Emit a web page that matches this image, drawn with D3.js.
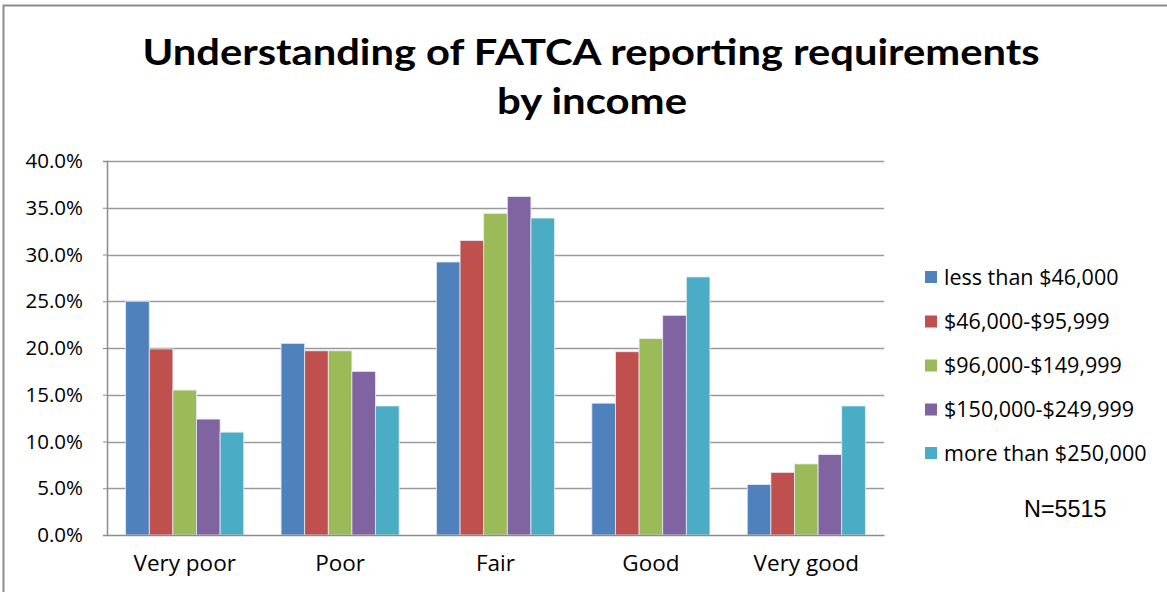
<!DOCTYPE html>
<html><head><meta charset="utf-8">
<script src="https://cdn.jsdelivr.net/npm/d3@7"></script>
<style>body{margin:0;background:#fff}svg{display:block}</style>
</head><body><svg id="c" width="1167" height="592"></svg>
<script>
const categories = ["Very poor","Poor","Fair","Good","Very good"];
const seriesNames = ["less than $46,000","$46,000-$95,999","$96,000-$149,999","$150,000-$249,999","more than $250,000"];
const lessThan46k   = [25.0, 20.5, 29.2, 14.1, 5.4];
const from46to96k   = [19.9, 19.7, 31.5, 19.6, 6.7];
const from96to150k  = [15.5, 19.7, 34.4, 21.0, 7.6];
const from150to250k = [12.4, 17.5, 36.2, 23.5, 8.6];
const moreThan250k  = [11.0, 13.8, 33.9, 27.6, 13.8];
const yTicks = [0,5,10,15,20,25,30,35,40];
const colors = ["#4F81BD","#C0504D","#9BBB59","#8064A2","#4BACC6"];

const series = [lessThan46k, from46to96k, from96to150k, from150to250k, moreThan250k];
const svg = d3.select("#c");
const m = {l:107, r:884, t:161, b:535};
const FONT = "'Open Sans', sans-serif";

svg.append("rect").attr("x",3.5).attr("y",5.5).attr("width",1200).attr("height",700)
  .attr("fill","none").attr("stroke","#8c8c8c").attr("stroke-width",2);

const tf = "Lato, 'Open Sans', sans-serif";
svg.append("text").attr("x",591).attr("y",65).attr("text-anchor","middle")
  .attr("font-family",tf).attr("font-weight","bold").attr("font-size",36).attr("fill","#000")
  .attr("textLength",897).attr("lengthAdjust","spacingAndGlyphs")
  .text("Understanding of FATCA reporting requirements");
svg.append("text").attr("x",592).attr("y",114).attr("text-anchor","middle")
  .attr("font-family",tf).attr("font-weight","bold").attr("font-size",36).attr("fill","#000")
  .attr("textLength",190).attr("lengthAdjust","spacingAndGlyphs")
  .text("by income");

const y = d3.scaleLinear().domain([0,40]).range([m.b,m.t]);
const x0 = d3.scaleBand().domain(categories).range([m.l,m.r]).paddingInner(0.24).paddingOuter(0.12);
const x1 = d3.scaleBand().domain(d3.range(series.length)).range([0,x0.bandwidth()]);

// gridlines
svg.append("g").selectAll("line").data(yTicks.filter(d=>d>0)).join("line")
  .attr("x1",m.l).attr("x2",m.r).attr("y1",d=>Math.round(y(d))+0.5).attr("y2",d=>Math.round(y(d))+0.5)
  .attr("stroke","#9a9a9a").attr("stroke-width",1.5);

// bars
categories.forEach((c,ci)=>{
  series.forEach((s,si)=>{
    svg.append("rect")
      .attr("x",x0(c)+x1(si)).attr("width",x1.bandwidth())
      .attr("y",y(s[ci])).attr("height",y(0)-y(s[ci]))
      .attr("fill",colors[si]).attr("stroke","#e6ecf3").attr("stroke-width",0.8);
  });
});

// y axis
const ya = svg.append("g").attr("transform",`translate(${m.l},0)`)
  .call(d3.axisLeft(y).tickValues(yTicks).tickFormat(d=>d.toFixed(1)+"%").tickSize(4).tickPadding(20));
ya.select(".domain").attr("stroke","#8c8c8c").attr("stroke-width",1.5);
ya.selectAll(".tick line").attr("stroke","#8c8c8c");
ya.selectAll("text").attr("font-family",FONT).attr("font-size",20.5).attr("fill","#000");

// x axis
const xa = svg.append("g").attr("transform",`translate(0,${m.b})`)
  .call(d3.axisBottom(x0).tickSize(0).tickPadding(20));
xa.select(".domain").attr("stroke","#8c8c8c").attr("stroke-width",1.5);
xa.selectAll("text").attr("font-family",FONT).attr("font-size",22.5).attr("fill","#000");

// legend
const lg = svg.append("g");
const rowsY = [277, 321.5, 365.5, 409.5, 453];
seriesNames.forEach((n,i)=>{
  lg.append("rect").attr("x",925).attr("y",rowsY[i]-6).attr("width",12).attr("height",12).attr("fill",colors[i]);
  lg.append("text").attr("x",944).attr("y",rowsY[i]+7.5).attr("font-family",FONT)
    .attr("font-size",21.5).attr("fill","#000").text(n);
});
svg.append("text").attr("x",1024).attr("y",517).attr("font-family","'Liberation Sans', Arial, sans-serif")
  .attr("font-size",23.4).attr("fill","#000").text("N=5515");
</script></body></html>
